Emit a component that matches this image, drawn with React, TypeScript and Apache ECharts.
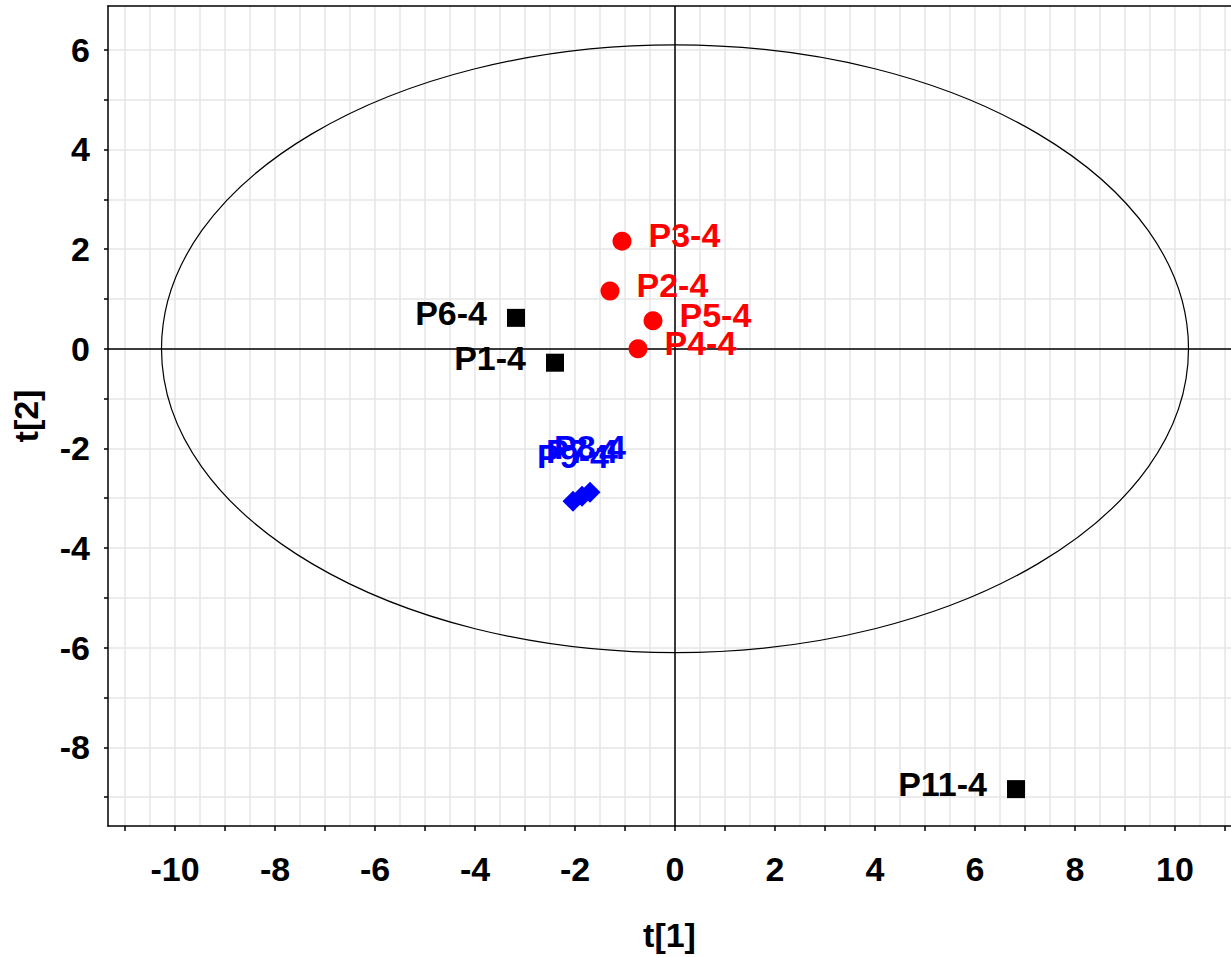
import React, { useEffect, useRef } from "react";
import * as echarts from "echarts";

// ---- data ----
const redNames = ["P3-4", "P2-4", "P5-4", "P4-4"];
const redX = [-1.06, -1.3, -0.44, -0.74];
const redY = [2.16, 1.16, 0.56, 0.0];

const blackNames = ["P6-4", "P1-4", "P11-4"];
const blackX = [-3.18, -2.4, 6.82];
const blackY = [0.62, -0.28, -8.84];

const blueNames = ["P9-4", "P7-4", "P8-4"];
const blueX = [-2.04, -1.86, -1.7];
const blueY = [-3.06, -2.96, -2.88];

// Hotelling T2 ellipse (center x, center y, radius x, radius y)
const ellipse = [[0, 0, 10.27, 6.1]];

// ---- axis ticks ----
const xLabelVals = [-10, -8, -6, -4, -2, 0, 2, 4, 6, 8, 10];
const xTickVals = [-11, -10, -9, -8, -7, -6, -5, -4, -3, -2, -1, 0, 1, 2, 3, 4, 5, 6, 7, 8, 9, 10, 11];
const xGridVals = [
  -11, -10.5, -10, -9.5, -9, -8.5, -8, -7.5, -7, -6.5, -6, -5.5, -5, -4.5, -4, -3.5, -3, -2.5, -2, -1.5, -1, -0.5,
  0, 0.5, 1, 1.5, 2, 2.5, 3, 3.5, 4, 4.5, 5, 5.5, 6, 6.5, 7, 7.5, 8, 8.5, 9, 9.5, 10, 10.5, 11,
];
const yLabelVals = [-8, -6, -4, -2, 0, 2, 4, 6];
const yTickVals = [-9, -8, -7, -6, -5, -4, -3, -2, -1, 0, 1, 2, 3, 4, 5, 6];

const X_MIN = -11.34;
const X_MAX = 11.12;
const Y_MIN = -9.58;
const Y_MAX = 6.88;

const FONT = "'Liberation Sans', Arial, sans-serif";
const GRID_COLOR = "#e6e6e6";

const toItems = (names: string[], xs: number[], ys: number[]) =>
  names.map((n, i) => ({ name: n, value: [xs[i], ys[i]] }));

export default function App() {
  const ref = useRef<HTMLDivElement>(null);
  useEffect(() => {
    if (!ref.current) return;
    const chart = echarts.init(ref.current, undefined, { renderer: "svg" });
    const labelBase = {
      show: true,
      fontFamily: FONT,
      fontWeight: "bold" as const,
      fontSize: 34,
      formatter: "{b}",
      opacity: 1,
    };
    chart.setOption({
      animation: false,
      backgroundColor: "#ffffff",
      grid: { left: 108, top: 6, right: 0, bottom: 128, containLabel: false },
      xAxis: [
        {
          type: "value",
          position: "bottom",
          min: X_MIN,
          max: X_MAX,
          axisLine: { show: true, onZero: false, lineStyle: { color: "#000", width: 1.5 } },
          axisTick: { show: true, customValues: xTickVals, length: 5, lineStyle: { color: "#000", width: 1.5 } },
          axisLabel: {
            show: true,
            customValues: xLabelVals,
            color: "#000",
            fontFamily: FONT,
            fontWeight: "bold",
            fontSize: 34,
            margin: 26,
          },
          splitLine: { show: false },
          name: "t[1]",
          nameLocation: "middle",
          nameGap: 92,
          nameTextStyle: { color: "#000", fontFamily: FONT, fontWeight: "bold", fontSize: 34 },
        },
        {
          type: "value",
          position: "bottom",
          min: X_MIN,
          max: X_MAX,
          axisLine: { show: false },
          axisTick: { show: false, customValues: xGridVals },
          axisLabel: { show: false, customValues: xGridVals },
          splitLine: { show: true, lineStyle: { color: GRID_COLOR, width: 1.5 } },
        },
        {
          type: "value",
          position: "top",
          min: X_MIN,
          max: X_MAX,
          axisLine: { show: true, onZero: false, lineStyle: { color: "#000", width: 1.5 } },
          axisTick: { show: false },
          axisLabel: { show: false },
          splitLine: { show: false },
        },
      ],
      yAxis: [
        {
          type: "value",
          position: "left",
          min: Y_MIN,
          max: Y_MAX,
          axisLine: { show: true, onZero: false, lineStyle: { color: "#000", width: 1.5 } },
          axisTick: { show: true, customValues: yTickVals, length: 4, lineStyle: { color: "#000", width: 1.5 } },
          axisLabel: {
            show: true,
            customValues: yLabelVals,
            color: "#000",
            fontFamily: FONT,
            fontWeight: "bold",
            fontSize: 34,
            margin: 18,
          },
          splitLine: { show: false },
          name: "t[2]",
          nameLocation: "middle",
          nameGap: 65,
          nameRotate: 90,
          nameTextStyle: { color: "#000", fontFamily: FONT, fontWeight: "bold", fontSize: 34 },
        },
        {
          type: "value",
          position: "left",
          min: Y_MIN,
          max: Y_MAX,
          axisLine: { show: false },
          axisTick: { show: false, customValues: yTickVals },
          axisLabel: { show: false, customValues: yTickVals },
          splitLine: { show: true, lineStyle: { color: GRID_COLOR, width: 1.5 } },
        },
      ],
      series: [
        {
          type: "custom",
          xAxisIndex: 0,
          yAxisIndex: 0,
          silent: true,
          z: 3,
          data: ellipse,
          renderItem: (params: any, api: any) => {
            const c = api.coord([api.value(0), api.value(1)]);
            const s = api.size([api.value(2), api.value(3)]);
            return {
              type: "ellipse",
              shape: { cx: c[0], cy: c[1], rx: s[0], ry: s[1] },
              style: { fill: "none", stroke: "#000", lineWidth: 1.2 },
            };
          },
          markLine: {
            silent: true,
            symbol: "none",
            label: { show: false },
            lineStyle: { color: "#000", width: 1.5, type: "solid", opacity: 1 },
            data: [{ xAxis: 0 }, { yAxis: 0 }],
          },
        },
        {
          type: "scatter",
          name: "black",
          xAxisIndex: 0,
          yAxisIndex: 0,
          z: 5,
          symbol: "rect",
          symbolSize: 18,
          itemStyle: { color: "#000000", opacity: 1 },
          label: { ...labelBase, color: "#000000", position: "left", distance: 20, offset: [0, -5] },
          data: toItems(blackNames, blackX, blackY),
        },
        {
          type: "scatter",
          name: "red",
          xAxisIndex: 0,
          yAxisIndex: 0,
          z: 5,
          symbol: "circle",
          symbolSize: 19,
          itemStyle: { color: "#ff0000", opacity: 1 },
          label: { ...labelBase, color: "#ff0000", position: "right", distance: 17, offset: [0, -6] },
          data: toItems(redNames, redX, redY),
        },
        {
          type: "scatter",
          name: "blue",
          xAxisIndex: 0,
          yAxisIndex: 0,
          z: 5,
          symbol: "diamond",
          symbolSize: 21,
          itemStyle: { color: "#0000ff", opacity: 1 },
          label: { ...labelBase, color: "#0000ff", position: "top", distance: 18 },
          data: toItems(blueNames, blueX, blueY),
        },
      ],
    });
    return () => chart.dispose();
  }, []);
  return (
    <div
      ref={ref}
      style={{ position: "fixed", left: 0, top: 0, width: 1231, height: 957, background: "#fff" }}
    />
  );
}
